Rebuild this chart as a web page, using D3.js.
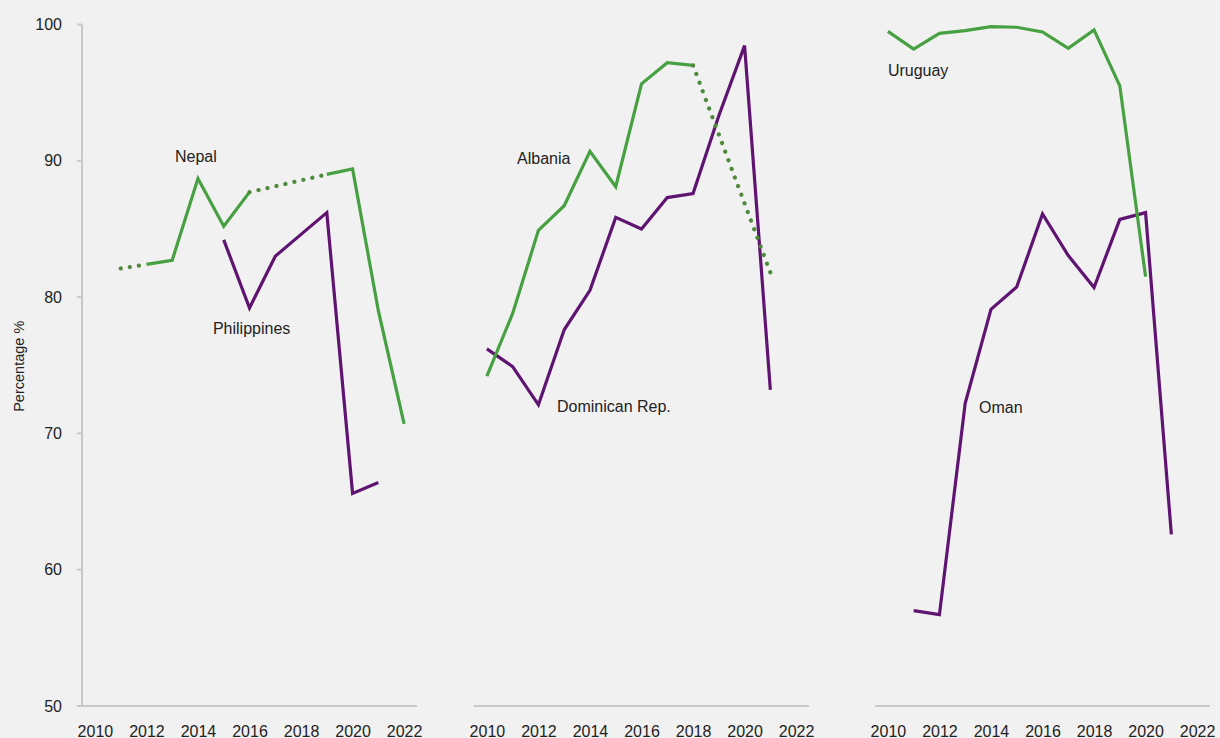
<!DOCTYPE html>
<html>
<head>
<meta charset="utf-8">
<script src="https://cdn.jsdelivr.net/npm/d3@7"></script>
<style>
  html, body { margin: 0; padding: 0; background: #f1f1f1; }
  svg { display: block; }
  text { font-family: "Liberation Sans", Arial, sans-serif; fill: #222; }
</style>
</head>
<body>
<svg id="chart" width="1220" height="738"></svg>
<script>
// ---------------- DATA ----------------
const years = [2010, 2011, 2012, 2013, 2014, 2015, 2016, 2017, 2018, 2019, 2020, 2021, 2022];
const xTickLabels = [2010, 2012, 2014, 2016, 2018, 2020, 2022];
const yTickLabels = [50, 60, 70, 80, 90, 100];
const yAxisTitle = "Percentage %";

// Panel 1
const nepal       = [null, 82.1, 82.4, 82.7, 88.7, 85.2, 87.7, null, null, 89.0, 89.4, 79.0, 70.7];
const nepalDotted = [[2011, 2012], [2016, 2019]];
const philippines = [null, null, null, null, null, 84.2, 79.2, 83.0, 84.6, 86.2, 65.6, 66.4, null];

// Panel 2
const albania       = [74.2, 78.8, 84.9, 86.7, 90.7, 88.1, 95.65, 97.2, 97.0, null, null, 81.8, null];
const albaniaDotted = [[2018, 2021]];
const dominicanRep  = [76.2, 74.9, 72.1, 77.6, 80.5, 85.85, 85.0, 87.3, 87.6, 93.3, 98.45, 73.2, null];

// Panel 3
const uruguay = [99.5, 98.2, 99.35, 99.55, 99.85, 99.8, 99.45, 98.25, 99.6, 95.5, 81.5, null, null];
const oman    = [null, 57.0, 56.7, 72.2, 79.1, 80.75, 86.1, 83.05, 80.7, 85.7, 86.2, 62.6, null];

// Series labels (anchored in data units: year, value)
const seriesLabels = [
  { panel: 0, text: "Nepal",          year: 2013.11, value: 89.9 },
  { panel: 0, text: "Philippines",    year: 2014.58, value: 77.3 },
  { panel: 1, text: "Albania",        year: 2011.17, value: 89.8 },
  { panel: 1, text: "Dominican Rep.", year: 2012.72, value: 71.6 },
  { panel: 2, text: "Uruguay",        year: 2010.0,  value: 96.2 },
  { panel: 2, text: "Oman",           year: 2013.54, value: 71.5 }
];

// ---------------- LAYOUT / STYLE ----------------
const GREEN = "#47a041", GREEN_DOT = "#4f8a3a", PURPLE = "#5e1470";
const panels = [
  { left: 82,  series: [ {values: philippines, dotted: [], color: PURPLE}, {values: nepal, dotted: nepalDotted, color: GREEN} ] },
  { left: 474, series: [ {values: dominicanRep, dotted: [], color: PURPLE}, {values: albania, dotted: albaniaDotted, color: GREEN} ] },
  { left: 875, series: [ {values: oman, dotted: [], color: PURPLE}, {values: uruguay, dotted: [], color: GREEN} ] }
];
const panelWidth = 335;
const yTop = 24.5, yBottom = 706;

const svg = d3.select("#chart");
const y = d3.scaleLinear().domain([50, 100]).range([yBottom, yTop]);

// Y axis (first panel only)
const yAxisG = svg.append("g").attr("transform", `translate(${panels[0].left},0)`);
yAxisG.append("line").attr("x1", 0).attr("x2", 0).attr("y1", y(100)).attr("y2", y(50))
  .attr("stroke", "#c8c8c8").attr("stroke-width", 2);
yAxisG.selectAll("line.tick").data(yTickLabels).join("line")
  .attr("class", "tick").attr("x1", -5).attr("x2", 0)
  .attr("y1", d => y(d)).attr("y2", d => y(d))
  .attr("stroke", "#c8c8c8").attr("stroke-width", 2);
yAxisG.selectAll("text").data(yTickLabels).join("text")
  .attr("x", -20).attr("y", d => y(d)).attr("dy", "0.35em")
  .attr("text-anchor", "end").style("font-size", "16px").text(d => d);

svg.append("text")
  .attr("transform", `translate(24,${(y(100) + y(50)) / 2 + 1}) rotate(-90)`)
  .attr("text-anchor", "middle").style("font-size", "14.5px").text(yAxisTitle);

panels.forEach((p, pi) => {
  const x = d3.scaleLinear().domain([2009.5, 2022.5]).range([p.left, p.left + panelWidth]);
  const g = svg.append("g");

  // x axis line
  g.append("line")
    .attr("x1", pi === 0 ? p.left - 5 : p.left).attr("x2", p.left + panelWidth)
    .attr("y1", y(50)).attr("y2", y(50))
    .attr("stroke", "#c8c8c8").attr("stroke-width", 2);

  const xAxis = d3.axisBottom(x).tickValues(xTickLabels).tickFormat(d3.format("d")).tickSize(0).tickPadding(0);
  const ax = g.append("g").attr("transform", `translate(0,${y(50)})`).call(xAxis);
  ax.select(".domain").remove();
  ax.selectAll("text").attr("y", 31).attr("dy", 0)
    .style("font-size", "16px").style("font-family", "'Liberation Sans', Arial, sans-serif").attr("fill", "#222");

  const line = d3.line().x(d => x(d.year)).y(d => y(d.v));

  p.series.forEach(s => {
    const isDotted = (a, b) => s.dotted.some(([d0, d1]) => d0 === a && d1 === b);
    const runs = [];
    let cur = [];
    years.forEach((yr, i) => {
      const v = s.values[i];
      if (v == null) { if (cur.length > 1) runs.push(cur); cur = []; return; }
      if (cur.length && isDotted(cur[cur.length - 1].year, yr)) { if (cur.length > 1) runs.push(cur); cur = []; }
      cur.push({ year: yr, v: v });
    });
    if (cur.length > 1) runs.push(cur);

    g.selectAll(null).data(runs).join("path")
      .attr("d", line).attr("fill", "none")
      .attr("stroke", s.color).attr("stroke-width", 3.2);

    const dots = s.dotted.map(([a, b]) => [
      { year: a, v: s.values[years.indexOf(a)] },
      { year: b, v: s.values[years.indexOf(b)] }
    ]);
    g.selectAll(null).data(dots).join("path")
      .attr("d", line).attr("fill", "none")
      .attr("stroke", GREEN_DOT).attr("stroke-width", 4.2)
      .attr("stroke-linecap", "round").attr("stroke-dasharray", "0.1 9.1");
  });

  g.selectAll(null).data(seriesLabels.filter(l => l.panel === pi)).join("text")
    .attr("x", d => x(d.year)).attr("y", d => y(d.value))
    .style("font-size", "16px").text(d => d.text);
});
</script>
</body>
</html>
